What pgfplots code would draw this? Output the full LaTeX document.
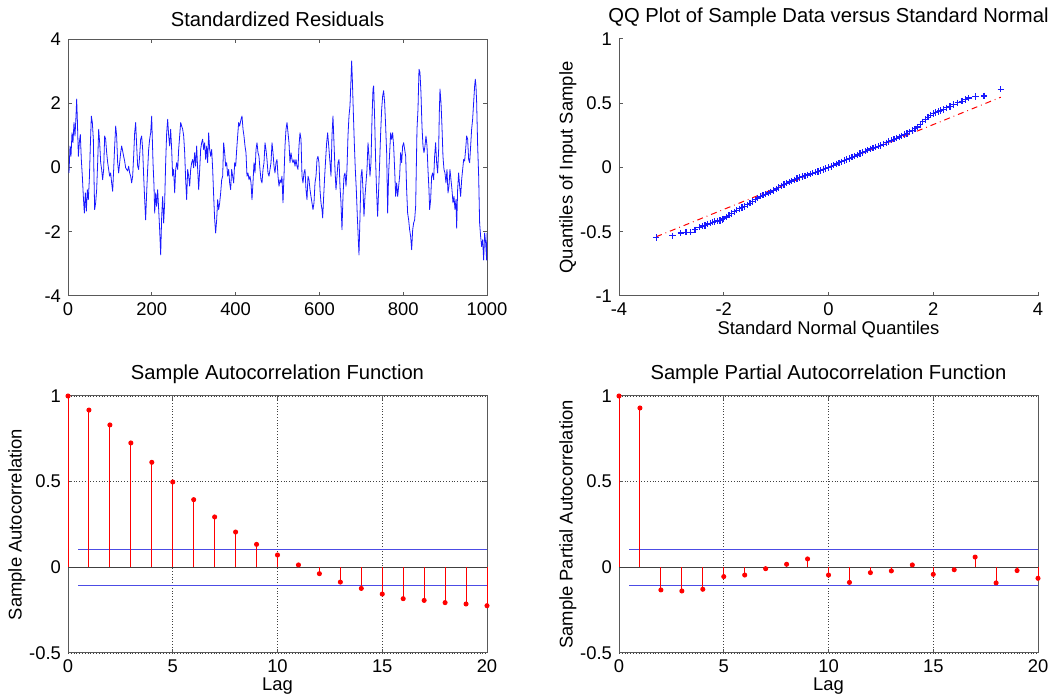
\documentclass[border=0pt]{standalone}
\usepackage{pgfplots}
\pgfplotsset{compat=1.18}
\usepackage{fontspec}
\setmainfont{Liberation Sans}
\definecolor{bnd}{rgb}{0.3,0.3,0.9}
\definecolor{axgray}{gray}{0.35}
\definecolor{mblue}{rgb}{0.1,0.1,1}
\pgfplotsset{
  mystyle/.style={
    scale only axis, width=209.5pt, height=128.5pt, anchor=south west,
    axis line style={-, axgray, line width=0.5pt},
    tick style={axgray, line width=0.5pt},
    major tick length=2pt,
    tick align=inside,
    ticklabel style={font=\fontsize{9.2}{10}\selectfont, black},
    label style={font=\fontsize{9.2}{10}\selectfont},
    xlabel shift=-4.5pt,
    ylabel shift=-5pt,
    title style={font=\fontsize{10.1}{11}\selectfont, yshift=-3.5pt},
    /pgf/number format/assume math mode=true,
    /pgf/number format/1000 sep={},
    scaled ticks=false,
  }
}
\begin{document}
\begin{tikzpicture}
\path[use as bounding box] (0,0) rectangle (529.5pt,350pt);
% ---------------- Standardized residuals
\begin{axis}[mystyle, at={(34pt,202pt)}, xmin=0, xmax=1000, ymin=-4, ymax=4,
  xtick={0,200,400,600,800,1000}, ytick={-4,-2,0,2,4},
  title={Standardized Residuals}]
\addplot[mblue, line width=0.4pt, line join=round] table {
2.4 -0.17
4.8 0.67
7.2 0.35
9.5 1.08
11.9 0.77
14.3 1.40
16.7 0.98
19.1 1.60
20.7 2.13
22.3 1.50
24.7 0.35
27.0 0.77
29.4 1.03
31.8 0.25
34.2 -0.27
36.6 -0.90
39.0 -1.42
41.4 -0.79
43.8 -1.36
46.1 -0.69
48.5 -1.00
50.9 -0.38
53.3 0.67
55.7 1.60
58.1 1.40
60.5 0.88
62.0 -0.27
63.6 -1.31
66.0 -1.10
68.4 -0.69
70.8 0.15
73.2 1.19
75.6 0.77
78.0 0.15
80.3 -0.06
82.7 -0.38
85.1 -0.06
87.5 0.98
89.9 0.88
92.3 0.46
94.7 0.15
97.0 -0.06
99.4 -0.27
101.8 -0.17
104.2 -0.48
106.6 -0.74
109.0 -0.06
111.4 0.67
113.8 1.29
116.1 0.98
118.5 0.15
120.9 -0.17
123.3 0.15
125.7 0.46
128.1 0.67
130.5 0.51
132.8 0.35
135.2 0.20
137.6 -0.01
140.0 -0.06
142.4 -0.11
144.8 0.04
147.2 -0.17
149.6 -0.27
151.9 -0.48
154.3 -0.27
156.7 0.35
159.1 1.08
161.5 1.40
163.9 0.67
166.3 0.04
168.6 -0.06
171.0 0.35
173.4 0.88
175.8 0.98
178.2 0.56
180.6 -0.27
183.0 -1.00
185.3 -1.63
187.7 -0.79
190.1 -0.06
192.5 0.56
194.9 0.88
197.3 1.08
199.7 1.60
202.9 0.15
205.3 -0.58
206.9 -1.42
209.3 -0.79
211.6 -1.21
214.0 -0.69
216.4 -1.31
218.8 -1.94
221.2 -2.72
223.6 -1.52
226.0 -0.90
228.3 -1.73
230.7 -1.10
233.1 0.15
235.5 1.08
237.9 1.50
240.3 0.98
242.7 0.67
245.0 1.19
247.4 0.56
249.8 -0.27
252.2 -0.06
254.6 -0.79
257.0 -0.06
259.4 0.15
261.8 -0.06
264.1 0.56
266.5 0.98
268.9 1.40
271.3 1.29
273.7 1.19
276.1 0.98
278.5 0.46
280.8 -0.38
283.2 -1.00
285.6 -0.06
288.0 -0.27
290.4 -0.58
292.8 -0.06
295.2 0.15
297.6 0.25
299.9 -0.01
302.3 0.46
304.7 0.04
307.1 0.67
309.5 -0.06
311.9 -0.69
314.3 -0.06
316.6 0.56
319.0 0.77
321.4 0.88
323.8 0.56
326.2 0.77
328.6 0.25
331.0 0.67
333.3 0.15
335.7 1.08
338.1 0.56
340.5 0.35
342.9 0.56
345.3 -0.06
347.7 -0.90
350.1 -1.63
352.4 -2.04
354.8 -1.63
357.2 -1.00
359.6 -1.31
362.0 -1.10
364.4 -0.79
366.8 -0.38
369.1 -0.27
371.5 0.77
373.9 0.46
376.3 0.04
378.7 0.15
381.1 -0.27
383.5 -0.06
385.8 -0.48
388.2 -0.69
390.6 -0.06
393.0 -0.27
395.4 -0.48
397.8 0.15
400.2 0.04
402.6 0.56
404.9 0.98
407.3 1.40
409.7 1.29
412.9 1.50
415.3 1.60
417.7 1.19
420.0 0.98
422.4 0.67
424.8 0.46
427.2 -0.27
429.6 -0.17
432.0 -0.38
434.4 -0.27
436.8 -0.48
439.1 -1.00
441.5 -0.48
443.9 0.15
446.3 -0.17
448.7 0.56
451.1 0.77
453.5 0.46
455.8 0.35
458.2 -0.06
460.6 -0.38
463.0 -0.48
465.4 -0.06
467.8 0.15
470.2 0.77
472.5 0.56
474.9 0.25
477.3 -0.17
479.7 -0.27
482.1 -0.06
484.5 0.15
486.9 0.77
489.3 0.46
491.6 0.04
494.0 -0.17
496.4 0.15
498.8 0.25
501.2 -0.27
503.6 -0.58
506.0 -0.38
508.3 -0.48
510.7 -0.27
513.1 -1.10
515.5 -0.27
517.9 0.67
520.3 1.19
522.7 1.40
525.1 1.08
527.4 0.77
529.8 0.15
532.2 0.46
534.6 0.25
537.0 0.15
539.4 0.25
541.8 0.04
544.1 0.25
546.5 0.04
548.9 -0.06
551.3 0.67
553.7 1.08
556.1 0.88
558.5 -0.27
560.8 -0.48
563.2 -0.17
565.6 -0.06
568.0 -0.69
570.4 -1.00
572.8 -0.27
575.2 -0.38
577.6 -0.69
579.9 -0.90
582.3 -1.10
584.7 -1.31
587.1 -1.10
589.5 -0.48
591.9 -0.27
594.3 0.25
596.6 0.35
599.0 0.15
601.4 -0.69
603.8 -1.10
606.2 -1.31
607.8 -1.57
610.2 -0.90
612.6 -0.27
614.9 0.25
617.3 0.77
619.7 1.08
622.9 0.56
625.3 0.15
627.7 -0.27
630.0 0.98
632.4 1.60
634.8 0.77
637.2 -0.06
639.6 -0.69
642.0 -0.27
644.4 0.15
646.8 0.25
649.1 -0.58
651.5 -1.10
653.9 -1.94
656.3 -0.90
658.7 -0.27
661.1 -0.17
663.5 -0.58
665.8 -0.06
668.2 0.98
670.6 1.60
673.0 1.92
675.4 2.75
677.0 3.32
678.6 2.75
681.0 1.71
683.3 0.77
685.7 -0.06
688.1 -0.69
690.5 -1.52
692.9 -2.25
694.5 -2.72
696.9 -1.52
699.3 -0.27
701.6 -0.06
704.0 -0.69
706.4 -1.52
708.8 -0.90
711.2 -0.48
713.6 -0.06
716.0 0.77
718.3 0.35
720.7 -0.27
723.1 0.15
725.5 1.50
727.9 2.44
729.5 2.54
731.9 1.50
734.3 0.15
736.6 -0.79
739.0 -1.52
741.4 -0.69
743.8 0.15
746.2 1.08
748.6 1.81
751.0 2.23
753.3 2.39
755.7 2.02
758.1 1.29
760.5 0.46
762.9 -1.42
765.3 -0.17
767.7 0.46
770.1 1.08
772.4 0.88
774.8 1.08
777.2 0.67
779.6 -0.06
782.0 -0.90
784.4 -0.48
786.8 -0.90
789.2 -0.58
791.5 -0.27
793.9 0.46
796.3 0.15
798.7 0.67
801.1 0.77
803.5 0.56
805.9 0.35
808.2 -0.69
810.6 -1.42
813.0 -1.63
815.4 -1.94
817.8 -2.15
820.2 -2.56
822.6 -1.94
824.9 -1.73
827.3 -1.63
829.7 -1.21
832.9 1.19
835.3 1.81
837.7 3.06
840.0 2.96
842.4 2.33
844.8 1.29
847.2 0.67
849.6 0.46
852.0 0.67
854.4 0.98
856.8 0.67
859.1 -0.06
861.5 -0.69
863.1 -1.31
865.5 -1.00
867.9 -0.27
870.3 -0.17
872.7 -0.38
875.0 0.35
877.4 0.77
879.8 0.15
882.2 -0.17
884.6 0.56
886.2 1.71
887.8 2.44
890.2 2.02
892.5 1.29
894.9 0.35
897.3 -0.06
899.7 -0.17
902.1 -0.48
904.5 -0.06
906.9 -0.79
909.3 -0.58
911.6 -0.06
914.0 -0.38
916.4 -0.69
918.8 -1.10
921.2 -0.90
923.6 -1.31
926.0 -1.00
927.6 -1.89
929.9 -0.69
932.3 -0.17
934.7 -0.58
937.1 -0.90
939.5 -0.38
941.9 -0.06
944.3 0.25
946.6 0.20
949.0 0.56
951.4 0.98
953.8 0.88
956.2 0.25
958.6 0.15
961.0 0.67
963.3 1.19
965.7 1.50
968.1 2.02
970.5 2.54
972.1 2.75
973.7 2.54
975.3 2.02
977.7 0.67
980.1 -0.27
982.4 -1.73
984.8 -2.15
987.2 -2.46
989.6 -2.25
992.0 -2.88
994.4 -2.04
996.8 -2.35
999.1 -2.88
1000.0 -2.04
};
\end{axis}
% ---------------- QQ plot
\begin{axis}[mystyle, at={(309.5pt,202pt)}, axis x line*=bottom, axis y line*=left,
  xmin=-4, xmax=4, ymin=-1, ymax=1,
  xtick={-4,-2,0,2,4}, ytick={-1,-0.5,0,0.5,1},
  xlabel={Standard Normal Quantiles}, ylabel={Quantiles of Input Sample},
  title={QQ Plot of Sample Data versus Standard Normal}]
\addplot[red, dash dot, line width=0.5pt] coordinates {(-3.29,-0.539) (3.29,0.547)};
\addplot[only marks, mark=+, mark size=1.6pt, mblue, mark options={line width=0.6pt}] table {
-3.29 -0.545
-2.98 -0.531
-2.82 -0.51
-2.72 -0.503
-2.63 -0.503
-2.55 -0.485
-2.46 -0.464
-2.40 -0.455
-2.36 -0.451
-2.31 -0.44
-2.26 -0.433
-2.21 -0.425
-2.17 -0.42
-2.12 -0.416
-2.07 -0.412
-2.03 -0.405
-2.00 -0.400
-1.95 -0.386
-1.90 -0.372
-1.85 -0.358
-1.80 -0.345
-1.75 -0.333
-1.70 -0.322
-1.65 -0.312
-1.60 -0.302
-1.55 -0.290
-1.50 -0.278
-1.45 -0.265
-1.40 -0.252
-1.35 -0.238
-1.30 -0.224
-1.25 -0.216
-1.20 -0.208
-1.15 -0.199
-1.10 -0.190
-1.05 -0.179
-1.00 -0.168
-0.95 -0.155
-0.90 -0.142
-0.85 -0.132
-0.80 -0.122
-0.75 -0.113
-0.70 -0.105
-0.65 -0.096
-0.60 -0.087
-0.55 -0.078
-0.50 -0.070
-0.45 -0.064
-0.40 -0.058
-0.35 -0.051
-0.30 -0.045
-0.25 -0.037
-0.20 -0.030
-0.15 -0.022
-0.10 -0.015
-0.05 -0.007
0.00 0.000
0.05 0.009
0.10 0.018
0.15 0.027
0.20 0.037
0.25 0.045
0.30 0.054
0.35 0.062
0.40 0.071
0.45 0.080
0.50 0.088
0.55 0.098
0.60 0.108
0.65 0.117
0.70 0.127
0.75 0.136
0.80 0.145
0.85 0.151
0.90 0.158
0.95 0.165
1.00 0.172
1.05 0.182
1.10 0.192
1.15 0.202
1.20 0.212
1.25 0.220
1.30 0.228
1.35 0.238
1.40 0.247
1.45 0.256
1.50 0.266
1.55 0.277
1.60 0.288
1.65 0.301
1.70 0.315
1.75 0.335
1.80 0.355
1.85 0.374
1.90 0.392
1.95 0.407
2.00 0.420
2.05 0.428
2.10 0.436
2.14 0.443
2.20 0.452
2.26 0.464
2.32 0.476
2.39 0.490
2.47 0.503
2.55 0.516
2.62 0.530
2.68 0.541
2.81 0.554
2.97 0.557
3.29 0.609
};
\end{axis}
% ---------------- ACF
\begin{axis}[mystyle, at={(34pt,23.5pt)}, clip=false,
  xmin=0, xmax=20, ymin=-0.5, ymax=1,
  xtick={0,5,10,15,20}, ytick={-0.5,0,0.5,1},
  grid=major, grid style={densely dotted, black!75, line width=0.4pt},
  xlabel={Lag}, ylabel={Sample Autocorrelation},
  title={Sample Autocorrelation Function}]
\addplot[black!75, line width=0.5pt] coordinates {(0,0) (20,0)};
\addplot[bnd, line width=0.5pt] coordinates {(0.5,0.105) (20,0.105)};
\addplot[bnd, line width=0.5pt] coordinates {(0.5,-0.105) (20,-0.105)};
\addplot[red, ycomb, line width=0.5pt, mark=*, mark size=1pt, mark options={fill=red, draw=red}] coordinates {
(0,1) (1,0.918) (2,0.831) (3,0.726) (4,0.613) (5,0.498) (6,0.395) (7,0.294)
(8,0.206) (9,0.134) (10,0.072) (11,0.014) (12,-0.037) (13,-0.086) (14,-0.123)
(15,-0.156) (16,-0.183) (17,-0.193) (18,-0.206) (19,-0.214) (20,-0.224)};
\end{axis}
% ---------------- PACF
\begin{axis}[mystyle, at={(309.5pt,23.5pt)}, clip=false,
  xmin=0, xmax=20, ymin=-0.5, ymax=1,
  xtick={0,5,10,15,20}, ytick={-0.5,0,0.5,1},
  grid=major, grid style={densely dotted, black!75, line width=0.4pt},
  xlabel={Lag}, ylabel={Sample Partial Autocorrelation},
  title={Sample Partial Autocorrelation Function}]
\addplot[black!75, line width=0.5pt] coordinates {(0,0) (20,0)};
\addplot[bnd, line width=0.5pt] coordinates {(0.5,0.105) (20,0.105)};
\addplot[bnd, line width=0.5pt] coordinates {(0.5,-0.105) (20,-0.105)};
\addplot[red, ycomb, line width=0.5pt, mark=*, mark size=1pt, mark options={fill=red, draw=red}] coordinates {
(0,1) (1,0.930) (2,-0.132) (3,-0.138) (4,-0.128) (5,-0.054) (6,-0.045) (7,-0.008)
(8,0.018) (9,0.049) (10,-0.045) (11,-0.088) (12,-0.031) (13,-0.021) (14,0.014)
(15,-0.041) (16,-0.014) (17,0.060) (18,-0.091) (19,-0.019) (20,-0.064)};
\end{axis}
\end{tikzpicture}
\end{document}
